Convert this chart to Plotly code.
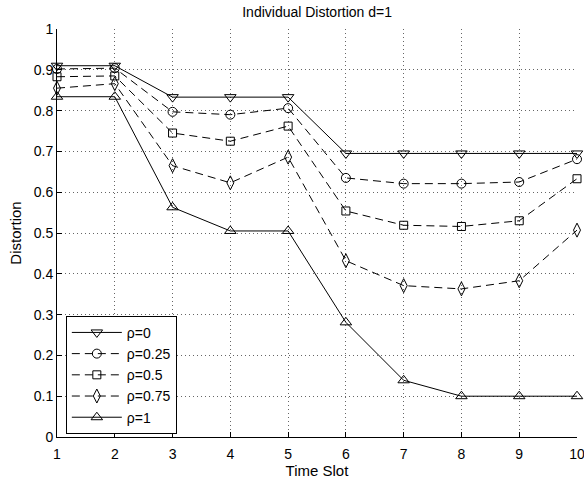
import plotly.graph_objects as go

time_slots = [1, 2, 3, 4, 5, 6, 7, 8, 9, 10]
rho_0 = [0.910, 0.910, 0.833, 0.833, 0.833, 0.695, 0.695, 0.695, 0.695, 0.695]
rho_025 = [0.902, 0.904, 0.797, 0.790, 0.806, 0.635, 0.621, 0.621, 0.625, 0.681]
rho_05 = [0.883, 0.885, 0.745, 0.725, 0.762, 0.554, 0.519, 0.516, 0.530, 0.633]
rho_075 = [0.855, 0.866, 0.665, 0.623, 0.686, 0.432, 0.371, 0.363, 0.383, 0.507]
rho_1 = [0.834, 0.834, 0.563, 0.505, 0.505, 0.281, 0.139, 0.100, 0.100, 0.100]
names = ["ρ=0", "ρ=0.25", "ρ=0.5", "ρ=0.75", "ρ=1"]

series = [rho_0, rho_025, rho_05, rho_075, rho_1]
symbols = ["triangle-down-open", "circle-open", "square-open", "diamond-tall-open", "triangle-up-open"]
sizes = [10, 9, 8, 10, 10]
dashes = ["solid", "8px,5px", "8px,5px", "8px,5px", "solid"]

FONT = "Liberation Sans, Arial, Helvetica, sans-serif"

fig = go.Figure()
for ys, nm, sym, sz, ds in zip(series, names, symbols, sizes, dashes):
    fig.add_trace(go.Scatter(
        x=time_slots, y=ys, name=nm, mode="lines+markers",
        line=dict(color="black", width=1, dash=ds),
        marker=dict(symbol=sym, size=sz, color="black", line=dict(color="black", width=1)),
        cliponaxis=False,
    ))

fig.update_layout(
    width=584, height=482,
    margin=dict(l=57, r=7, t=29, b=45, autoexpand=False),
    paper_bgcolor="white", plot_bgcolor="white",
    font=dict(family=FONT, size=14, color="black"),
    title=dict(text="Individual Distortion d=1", x=0.543, xref="container", xanchor="center",
               y=1 - 12 / 482, yref="container", yanchor="middle",
               font=dict(family=FONT, size=14, color="black")),
    showlegend=True,
    legend=dict(x=0.017, y=0.297, xanchor="left", yanchor="top",
                bordercolor="black", borderwidth=1, bgcolor="white",
                font=dict(family=FONT, size=14, color="black"),
                tracegroupgap=0, itemwidth=50),
)
fig.update_xaxes(
    range=[1, 10], tickmode="array", tickvals=time_slots, ticktext=[str(v) for v in time_slots],
    showline=True, linecolor="black", linewidth=1, mirror=False,
    ticks="inside", ticklen=5, tickcolor="black",
    showgrid=True, gridcolor="#666", griddash="1px,3px", gridwidth=1,
    zeroline=False, ticklabeloverflow="allow", ticklabelstandoff=4, automargin=False,
    title=dict(text="Time Slot", standoff=4, font=dict(family=FONT, size=15)),
    tickfont=dict(size=14),
)
fig.update_yaxes(
    range=[0, 1], tickmode="array", tickvals=[0, 0.1, 0.2, 0.3, 0.4, 0.5, 0.6, 0.7, 0.8, 0.9, 1],
    ticktext=["0", "0.1", "0.2", "0.3", "0.4", "0.5", "0.6", "0.7", "0.8", "0.9", "1"],
    showline=True, linecolor="black", linewidth=1, mirror=False,
    ticks="inside", ticklen=5, tickcolor="black",
    showgrid=True, gridcolor="#666", griddash="1px,3px", gridwidth=1,
    zeroline=False, automargin=False,
    title=dict(text="Distortion", standoff=8, font=dict(family=FONT, size=15)),
    tickfont=dict(size=14),
)

fig.write_html("out.html")
